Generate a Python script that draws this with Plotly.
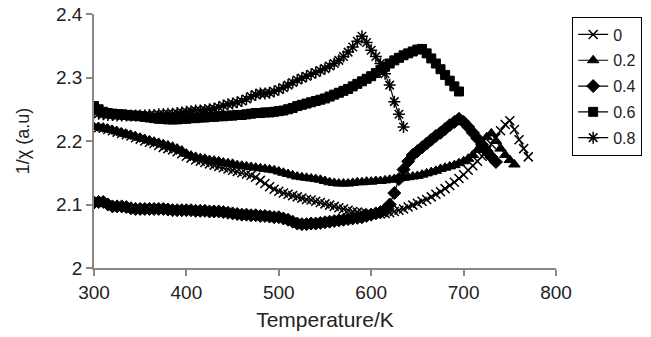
import plotly.graph_objects as go

# ---- data ----
t0 = list(range(300, 771, 5))
y0 = [2.222, 2.221, 2.220, 2.218, 2.216, 2.214, 2.212, 2.210, 2.208, 2.205,
      2.203, 2.200, 2.198, 2.196, 2.193, 2.190, 2.188, 2.186, 2.183, 2.180,
      2.176, 2.173, 2.170, 2.168, 2.166, 2.164, 2.162, 2.160, 2.158, 2.156,
      2.154, 2.152, 2.150, 2.148, 2.146, 2.143, 2.138, 2.133, 2.128, 2.124,
      2.121, 2.118, 2.116, 2.114, 2.112, 2.110, 2.108, 2.107, 2.105, 2.103,
      2.101, 2.099, 2.097, 2.095, 2.093, 2.091, 2.089, 2.088, 2.087, 2.086,
      2.085, 2.085, 2.085, 2.086, 2.087, 2.089, 2.091, 2.093, 2.096, 2.099,
      2.102, 2.105, 2.108, 2.112, 2.116, 2.120, 2.125, 2.130, 2.135, 2.141,
      2.147, 2.154, 2.161, 2.168, 2.176, 2.185, 2.195, 2.205, 2.216, 2.226,
      2.232, 2.218, 2.202, 2.188, 2.175]

t02 = list(range(300, 756, 5))
y02 = [2.222, 2.222, 2.221, 2.219, 2.217, 2.215, 2.213, 2.211, 2.209, 2.207,
       2.205, 2.203, 2.201, 2.199, 2.197, 2.195, 2.193, 2.191, 2.188, 2.185,
       2.180, 2.177, 2.175, 2.173, 2.172, 2.170, 2.169, 2.168, 2.166, 2.165,
       2.164, 2.162, 2.161, 2.160, 2.159, 2.158, 2.157, 2.156, 2.155, 2.154,
       2.152, 2.150, 2.148, 2.146, 2.144, 2.143, 2.142, 2.141, 2.140, 2.139,
       2.137, 2.135, 2.134, 2.133, 2.133, 2.133, 2.134, 2.135, 2.135, 2.136,
       2.136, 2.137, 2.137, 2.138, 2.139, 2.140, 2.141, 2.142, 2.143, 2.144,
       2.145, 2.147, 2.149, 2.151, 2.153, 2.156, 2.158, 2.160, 2.162, 2.165,
       2.168, 2.172, 2.178, 2.186, 2.196, 2.206, 2.212, 2.200, 2.188, 2.178,
       2.170, 2.163]

t04 = list(range(300, 736, 5))
y04 = [2.103, 2.104, 2.104, 2.100, 2.097, 2.097, 2.097, 2.096, 2.094, 2.093,
       2.093, 2.093, 2.093, 2.093, 2.093, 2.093, 2.092, 2.091, 2.091, 2.091,
       2.091, 2.091, 2.090, 2.090, 2.090, 2.089, 2.089, 2.089, 2.088, 2.087,
       2.086, 2.085, 2.084, 2.084, 2.083, 2.083, 2.082, 2.082, 2.081, 2.080,
       2.080, 2.078, 2.076, 2.073, 2.070, 2.069, 2.069, 2.070, 2.070, 2.071,
       2.072, 2.073, 2.074, 2.075, 2.076, 2.077, 2.078, 2.079, 2.080, 2.082,
       2.084, 2.086, 2.088, 2.092, 2.100, 2.118, 2.140, 2.155, 2.168, 2.178,
       2.184, 2.190, 2.196, 2.202, 2.208, 2.213, 2.219, 2.225, 2.230, 2.235,
       2.230, 2.222, 2.213, 2.204, 2.194, 2.184, 2.175, 2.167]

t06 = list(range(300, 696, 5))
y06 = [2.255, 2.250, 2.246, 2.244, 2.243, 2.242, 2.242, 2.241, 2.240, 2.240,
       2.239, 2.238, 2.237, 2.236, 2.235, 2.235, 2.234, 2.234, 2.234, 2.235,
       2.235, 2.236, 2.236, 2.237, 2.237, 2.238, 2.238, 2.239, 2.239, 2.240,
       2.240, 2.241, 2.241, 2.242, 2.243, 2.244, 2.244, 2.245, 2.245, 2.246,
       2.247, 2.248, 2.250, 2.252, 2.255, 2.257, 2.259, 2.261, 2.263, 2.265,
       2.267, 2.270, 2.273, 2.276, 2.279, 2.282, 2.286, 2.290, 2.294, 2.298,
       2.302, 2.307, 2.312, 2.317, 2.322, 2.327, 2.331, 2.335, 2.338, 2.341,
       2.344, 2.345, 2.338, 2.330, 2.322, 2.313, 2.304, 2.295, 2.286, 2.278]

t08 = list(range(300, 636, 5))
y08 = [2.245, 2.243, 2.242, 2.241, 2.241, 2.240, 2.240, 2.240, 2.240, 2.240,
       2.240, 2.240, 2.241, 2.241, 2.242, 2.242, 2.243, 2.243, 2.244, 2.245,
       2.246, 2.247, 2.248, 2.248, 2.249, 2.250, 2.251, 2.253, 2.256, 2.258,
       2.259, 2.261, 2.263, 2.266, 2.270, 2.273, 2.275, 2.275, 2.276, 2.278,
       2.281, 2.284, 2.288, 2.292, 2.296, 2.299, 2.302, 2.305, 2.308, 2.311,
       2.314, 2.318, 2.322, 2.327, 2.333, 2.340, 2.348, 2.357, 2.365, 2.355,
       2.343, 2.333, 2.322, 2.306, 2.288, 2.262, 2.242, 2.222]

names = ["0", "0.2", "0.4", "0.6", "0.8"]
xtick_vals = [300, 400, 500, 600, 700, 800]
ytick_vals = [2.0, 2.1, 2.2, 2.3, 2.4]
ytick_text = ["2", "2.1", "2.2", "2.3", "2.4"]

series = [(t0, y0), (t02, y02), (t04, y04), (t06, y06), (t08, y08)]
symbols = ["x-thin-open", "triangle-up", "diamond", "square", "asterisk-open"]
sizes = [9, 10, 10, 9, 10]
mlw = [1.5, 1, 1, 1, 1.5]

fig = go.Figure()
for i, ((tx, ty), nm) in enumerate(zip(series, names)):
    fig.add_trace(go.Scatter(
        x=tx, y=ty, name=nm, mode="lines+markers", legendgroup=nm,
        line=dict(color="black", width=1.2),
        marker=dict(symbol=symbols[i], size=sizes[i], color="black",
                    line=dict(color="black", width=mlw[i])),
    ))

font_family = "Liberation Sans, Arial, sans-serif"
fig.update_layout(
    width=651, height=337,
    margin=dict(l=94, r=95, t=14, b=69, autoexpand=False),
    paper_bgcolor="white", plot_bgcolor="white",
    font=dict(family=font_family, size=19, color="#222"),
    showlegend=True,
    legend=dict(
        x=1.035, y=0.99, xanchor="left", yanchor="top",
        bordercolor="black", borderwidth=1, bgcolor="white",
        font=dict(size=16, color="#222"),
        tracegroupgap=2, itemwidth=30,
    ),
    xaxis=dict(
        range=[300, 800], tickvals=xtick_vals, automargin=False,
        showline=True, linecolor="#888", linewidth=1.5,
        ticks="outside", ticklen=6, tickcolor="#888", tickwidth=1.5,
        tickfont=dict(size=19),
        showgrid=False, zeroline=False,
        title=dict(text="Temperature/K", font=dict(size=21), standoff=11),
    ),
    yaxis=dict(
        range=[2.0, 2.4], tickvals=ytick_vals, ticktext=ytick_text, automargin=False,
        showline=True, linecolor="#888", linewidth=1.5,
        ticks="outside", ticklen=6, tickcolor="#888", tickwidth=1.5,
        tickfont=dict(size=19),
        showgrid=False, zeroline=False,
        title=dict(text="1/χ (a.u)", font=dict(size=18), standoff=22),
    ),
)

fig.write_html("out.html")
